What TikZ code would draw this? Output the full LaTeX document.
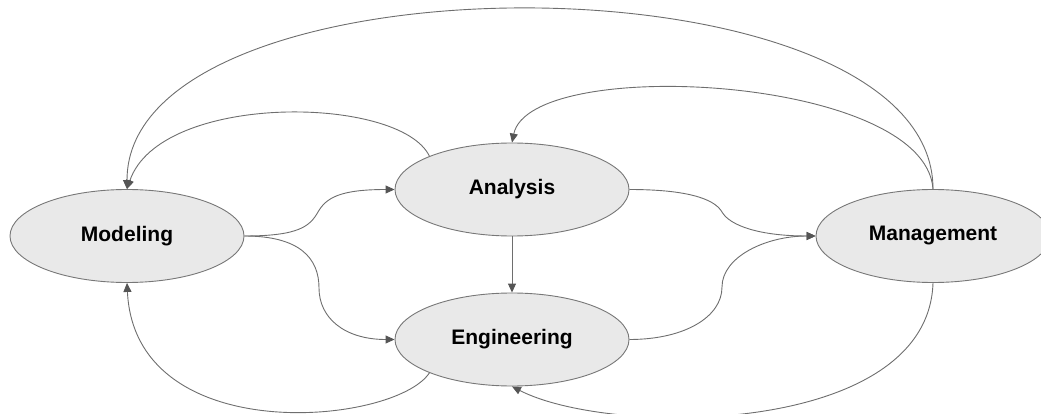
\documentclass[tikz,border=0pt]{standalone}
\usepackage{fontspec}
\setmainfont{Liberation Sans}
\usetikzlibrary{arrows.meta,shapes.geometric}
\definecolor{edgegray}{HTML}{6E6E6E}
\definecolor{tipgray}{HTML}{555555}
\definecolor{bordergray}{HTML}{777777}
\definecolor{fillgray}{HTML}{E9E9E9}
\begin{document}
\begin{tikzpicture}[x=1pt,y=-1pt,
  state/.style={ellipse, draw=bordergray, fill=fillgray, line width=0.9pt,
    minimum width=234pt, minimum height=93pt, inner sep=0pt,
    font=\fontsize{21}{25}\selectfont\bfseries},
  conn/.style={draw=edgegray, line width=0.9pt,
    -{Triangle[length=9pt,width=8pt,color=tipgray,fill=tipgray]}}]
\useasboundingbox (0,0) rectangle (1041,414);
\clip (0,0) rectangle (1041,414);
\node[state] (mod) at (127,236) {Modeling};
\node[state] (ana) at (512,189.5) {Analysis};
\node[state] (eng) at (512,339.5) {Engineering};
\node[state] (man) at (933,236) {Management};
% long arcs
\draw[conn] (man.north) .. controls (933,-51) and (127,-51) .. (mod.north);
\draw[conn] (man.north) .. controls (925,75) and (530,55) .. (ana.north);
\draw[conn] (ana.158) .. controls (400,95) and (160,92) .. (mod.north);
\draw[conn] (eng.202) .. controls (395,425) and (135,450) .. (mod.south);
\draw[conn] (man.south) .. controls (928,437) and (610,437) .. (eng.south);
% S-curves
\draw[conn] (mod.east) .. controls +(55,0) and +(-8,14) .. (318,212)
  .. controls +(8,-14) and +(-55,0) .. (ana.west);
\draw[conn] (mod.east) .. controls +(55,0) and +(0,-30) .. (319,288)
  .. controls +(0,30) and +(-50,0) .. (eng.west);
\draw[conn] (ana.east) .. controls +(55,0) and +(-8,-14) .. (722,212)
  .. controls +(8,14) and +(-55,0) .. (man.west);
\draw[conn] (eng.east) .. controls +(55,0) and +(0,30) .. (722,287)
  .. controls +(0,-30) and +(-50,0) .. (man.west);
\draw[conn] (ana.south) -- (eng.north);
\end{tikzpicture}
\end{document}
